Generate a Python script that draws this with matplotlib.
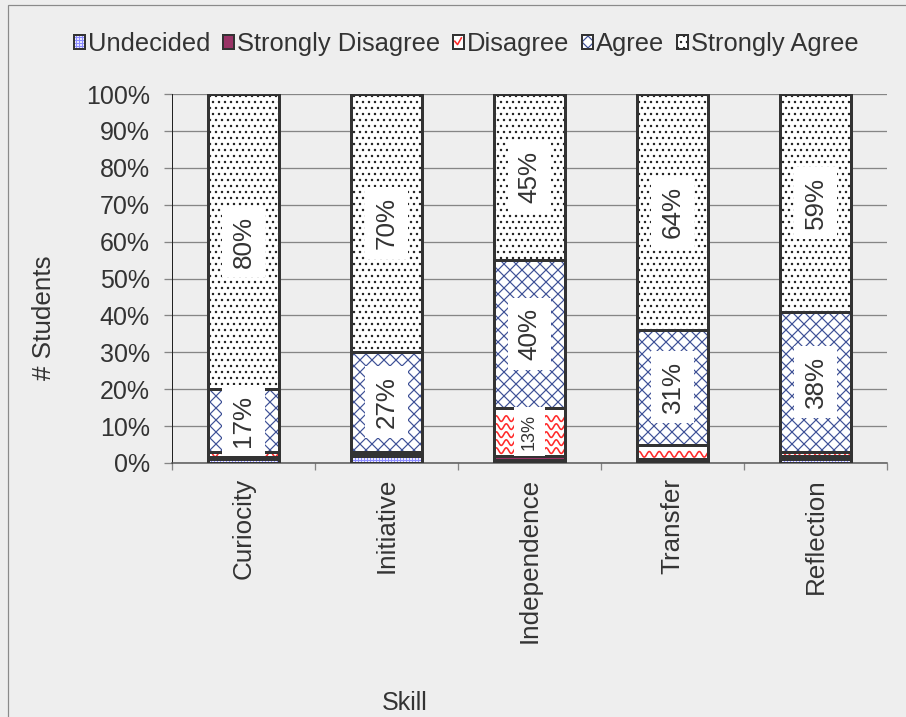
import numpy as np
import matplotlib
matplotlib.use("Agg")
import matplotlib.pyplot as plt
from matplotlib.patches import Rectangle, Patch
from matplotlib.lines import Line2D
from matplotlib.collections import LineCollection
from matplotlib.legend_handler import HandlerBase

# ---- data (percent of students) ----
skills = ["Curiocity", "Initiative", "Independence", "Transfer", "Reflection"]
undecided = [1.0, 2.0, 0.7, 0.7, 1.0]
strongly_disagree = [0.7, 0.5, 1.3, 0.3, 0.8]
disagree = [1.3, 0.5, 13, 4.0, 1.2]
agree = [17, 27, 40, 31, 38]
strongly_agree = [80, 70, 45, 64, 59]
y_ticks = [0, 10, 20, 30, 40, 50, 60, 70, 80, 90, 100]

# ---- styling ----
BG = "#eeeeee"
EDGE = "#333333"
TEXT = "#333333"
GRID = "#858585"

plt.rcParams["font.family"] = ["Liberation Sans", "DejaVu Sans"]
plt.rcParams["hatch.linewidth"] = 1.2
plt.rcParams["text.color"] = TEXT

series = [
    ("Undecided", undecided, dict(face="white", hatch="++++", hc="#8c8cff", zigzag=False)),
    ("Strongly Disagree", strongly_disagree, dict(face="#993366", hatch=None, hc="#993366", zigzag=False)),
    ("Disagree", disagree, dict(face="white", hatch=None, hc="#ff2a2a", zigzag=True)),
    ("Agree", agree, dict(face="white", hatch="xx", hc="#3f5196", zigzag=False)),
    ("Strongly Agree", strongly_agree, dict(face="white", hatch="..", hc="#222222", zigzag=False)),
]
labelled = {"Disagree", "Agree", "Strongly Agree"}

W, H, DPI = 906, 717, 72
fig = plt.figure(figsize=(W / DPI, H / DPI), dpi=DPI, facecolor=BG)
ax = fig.add_axes([172 / W, 1 - 463 / H, 715 / W, 369 / H])
ax.set_facecolor("none")

x = np.arange(len(skills))
bar_w = 0.5
ax.set_xlim(-0.5, len(skills) - 0.5)
ax.set_ylim(0, 100)

# size of one pixel in data units, used for the wavy fill
px_x = len(skills) / 715.0
px_y = 100.0 / 369.0


def wavy_fill(rect, color):
    x0, y0 = rect.get_x(), rect.get_y()
    w, h = rect.get_width(), rect.get_height()
    if h <= 0:
        return
    xs = np.linspace(x0, x0 + w, 160)
    period = 10 * px_x
    step = 8 * px_y
    amp = min(2.8 * px_y, h / 2)
    rows = []
    yrow = y0 + step / 2 + 1.0 * px_y
    while yrow + amp <= y0 + h - 1.0 * px_y:
        rows.append(yrow)
        yrow += step
    if not rows:
        rows = [y0 + h / 2]
    segs = [np.column_stack([xs, r + amp * np.sin(2 * np.pi * (xs - x0) / period)])
            for r in rows]
    ax.add_collection(LineCollection(segs, colors=color, linewidths=1.6, zorder=3))


bottom = np.zeros(len(skills))
for name, vals, st in series:
    vals = np.asarray(vals, dtype=float)
    fills = ax.bar(x, vals, bar_w, bottom=bottom, color=st["face"],
                   edgecolor=st["hc"], hatch=st["hatch"], linewidth=0, zorder=2)
    if st["zigzag"]:
        for r in fills:
            wavy_fill(r, st["hc"])
    ax.bar(x, vals, bar_w, bottom=bottom, facecolor="none",
           edgecolor=EDGE, linewidth=3, zorder=4)
    if name in labelled:
        for xi, b, v in zip(x, bottom, vals):
            if v >= 10:
                ax.text(xi, b + v / 2, f"{v:.0f}%", rotation=90,
                        ha="center", va="center",
                        fontsize=26 if v >= 15 else 18, color=TEXT, zorder=6,
                        bbox=dict(boxstyle="square,pad=0.38", fc="white", ec="none"))
    bottom = bottom + vals

# ---- axes ----
ax.set_yticks(y_ticks, [f"{t}%" for t in y_ticks], fontsize=25)
ax.tick_params(axis="y", length=8, width=1.3, color=GRID, pad=14, labelcolor=TEXT)
ax.yaxis.grid(True, color=GRID, linewidth=1.3, zorder=0)
ax.set_axisbelow(True)

ax.set_xticks(x, skills, rotation=90, fontsize=26)
ax.tick_params(axis="x", which="major", length=0, pad=15, labelcolor=TEXT)
ax.set_xticks(np.arange(-0.5, len(skills), 1.0), minor=True)
ax.tick_params(axis="x", which="minor", length=7, width=1.3, color=GRID)

for s in ("top", "right"):
    ax.spines[s].set_visible(False)
ax.spines["left"].set_color("#222222")
ax.spines["left"].set_linewidth(1.0)
ax.spines["bottom"].set_color("#555555")
ax.spines["bottom"].set_linewidth(1.5)

fig.text(44 / W, 1 - 318 / H, "# Students", rotation=90, fontsize=26,
         ha="center", va="center", color=TEXT)
fig.text(405 / W, 1 - 703 / H, "Skill", fontsize=25,
         ha="center", va="center", color=TEXT)


# ---- legend ----
class Swatch(Patch):
    def __init__(self, style, **kw):
        super().__init__(**kw)
        self.style = style


class SwatchHandler(HandlerBase):
    def create_artists(self, legend, orig_handle, xdescent, ydescent,
                       width, height, fontsize, trans):
        st = orig_handle.style
        x0, y0 = -xdescent, -ydescent
        arts = [Rectangle((x0, y0), width, height, facecolor=st["face"],
                          edgecolor=st["hc"], hatch=st["hatch"], lw=0,
                          transform=trans)]
        if st["zigzag"]:
            xs = x0 + width * np.array([0.2, 0.45, 0.8])
            ys = y0 + height * np.array([0.55, 0.3, 0.8])
            arts.append(Line2D(xs, ys, color=st["hc"], lw=1.6, transform=trans))
        arts.append(Rectangle((x0, y0), width, height, facecolor="none",
                              edgecolor=EDGE, lw=2, transform=trans))
        return arts


handles = [Swatch(st, label=name) for name, _, st in series]
fig.legend(handles=handles, loc="center", bbox_to_anchor=(466 / W, 1 - 44 / H),
           ncol=5, frameon=False, fontsize=25.5, handlelength=0.43,
           handleheight=0.43, handletextpad=0.12, columnspacing=0.5,
           handler_map={Swatch: SwatchHandler()}, labelcolor=TEXT)

# outer frame of the chart area
fig.add_artist(Rectangle((7.5 / W, -0.1), 2, 1 - 5 / H + 0.1,
                         transform=fig.transFigure, fill=False,
                         edgecolor="#8a8a8a", lw=1.2))

fig.savefig("out.png", dpi=DPI, facecolor=BG)
